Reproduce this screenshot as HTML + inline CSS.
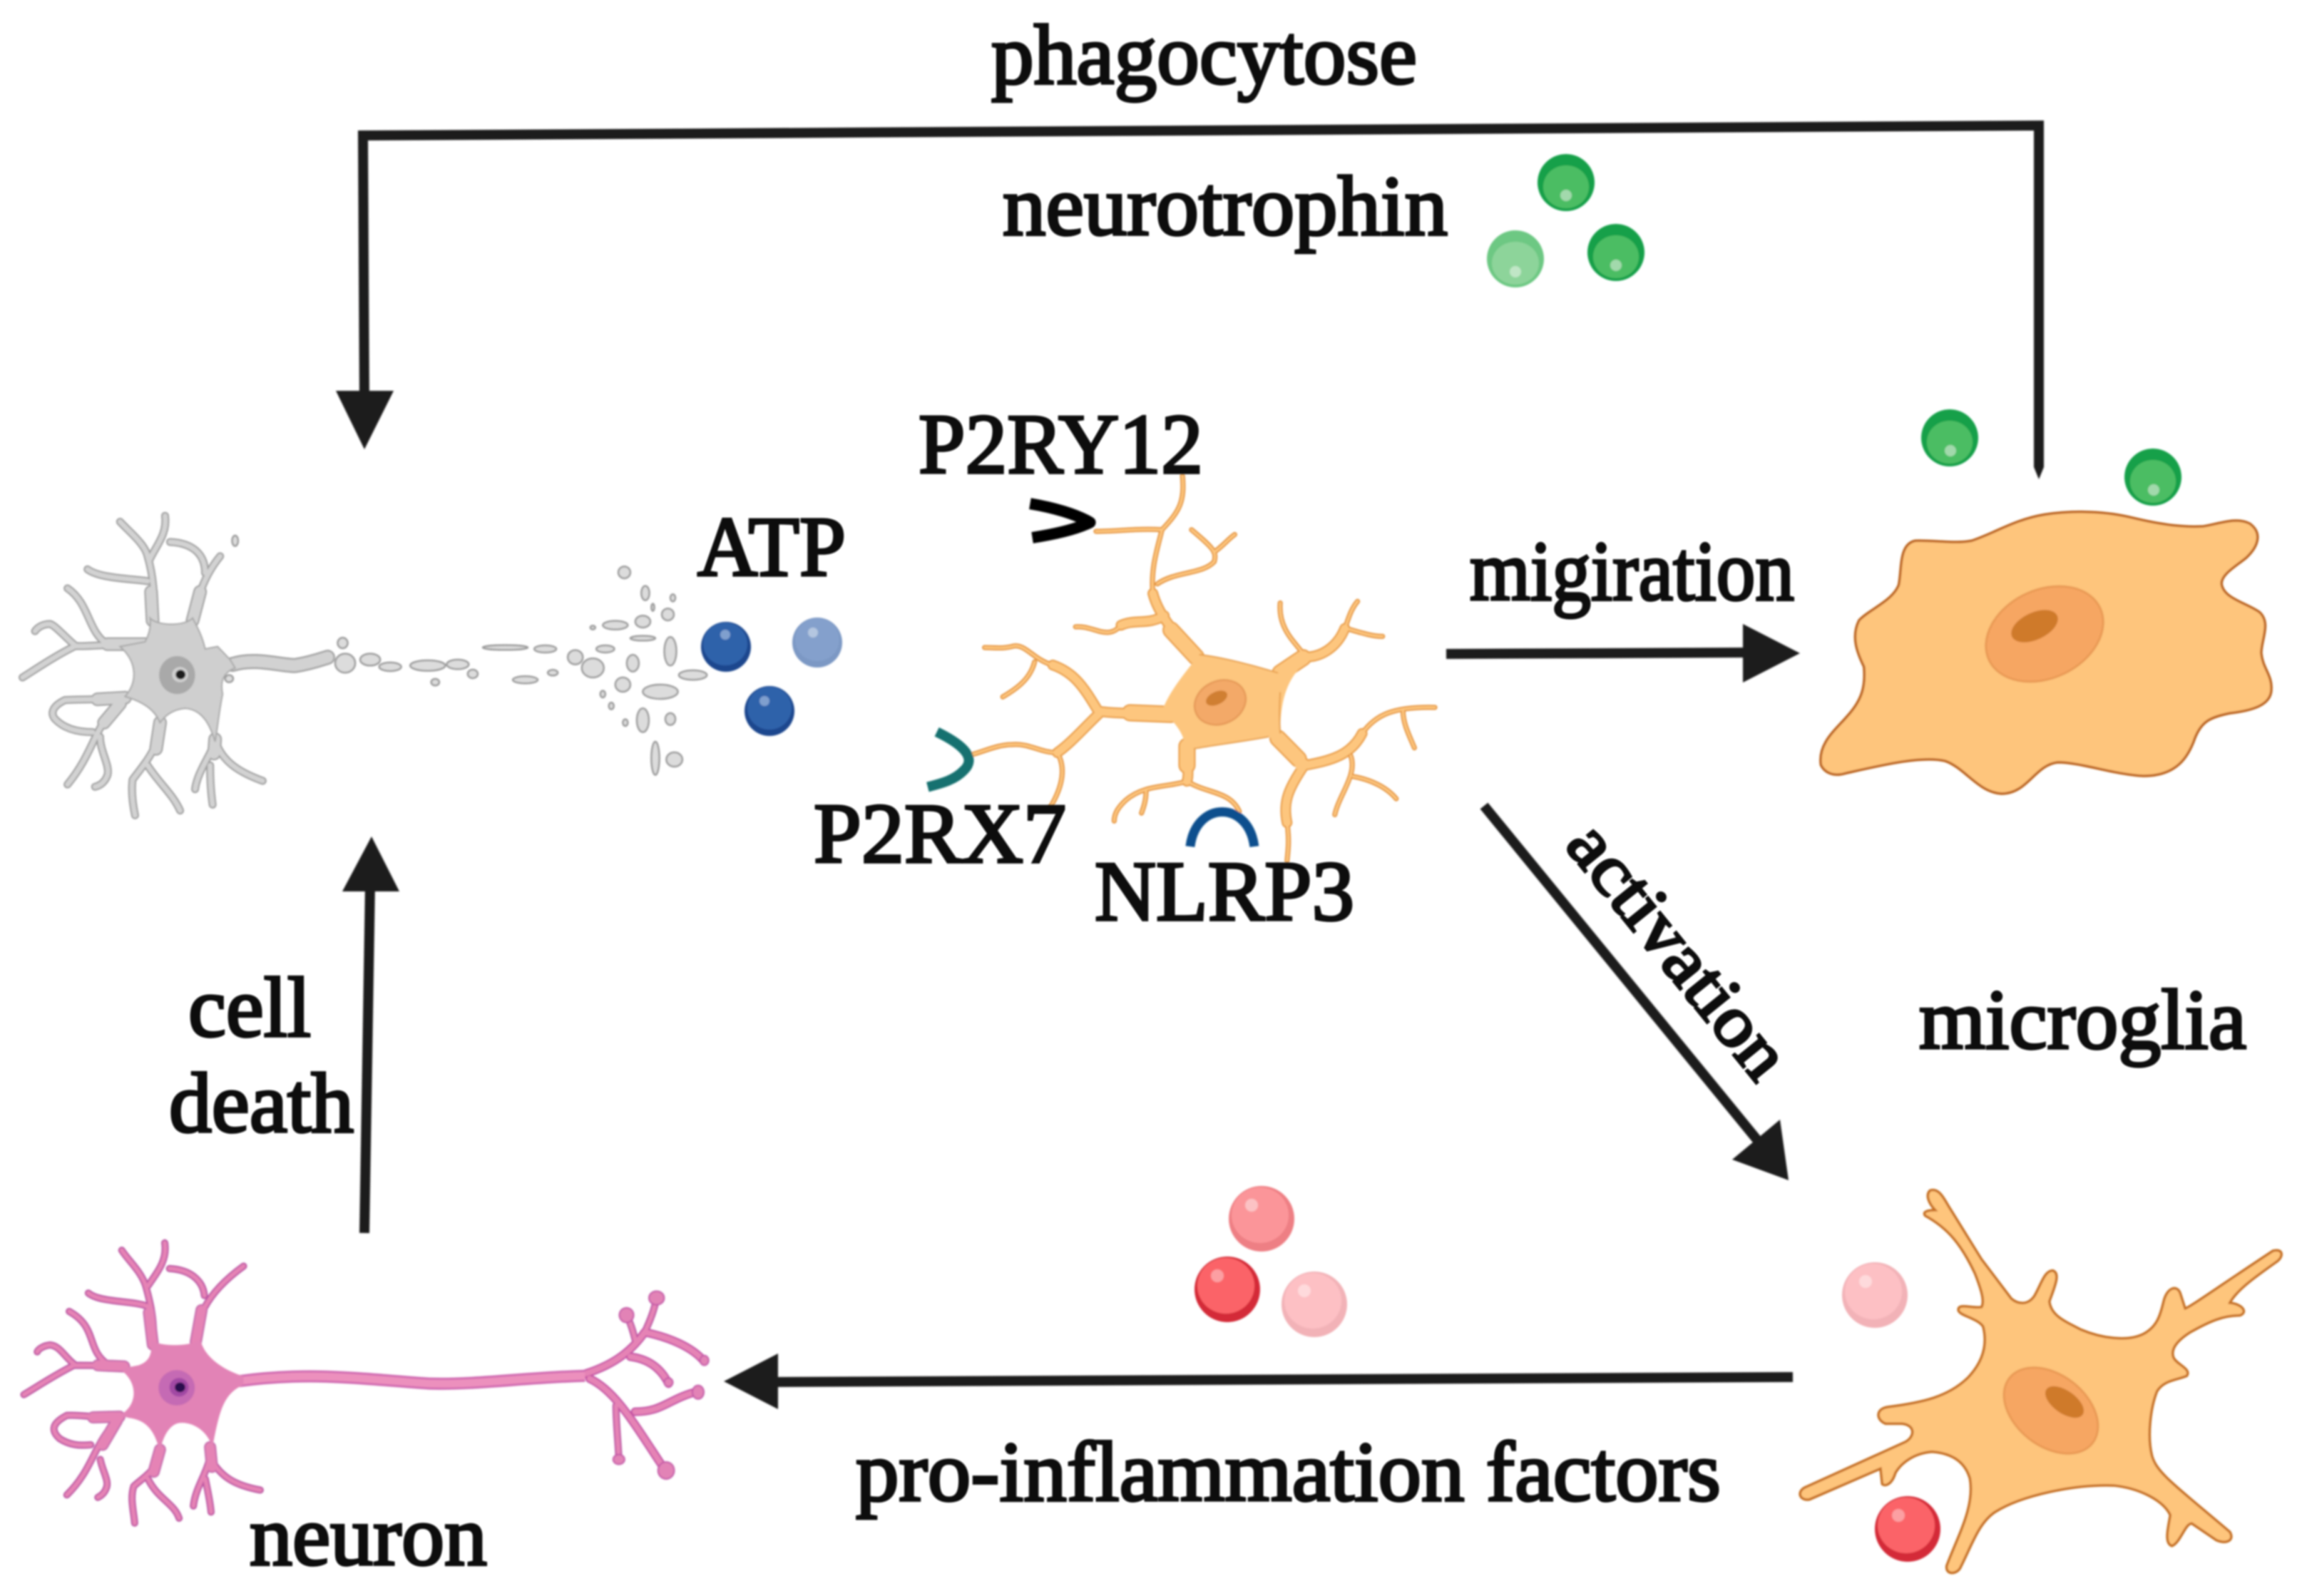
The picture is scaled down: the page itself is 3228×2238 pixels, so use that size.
<!DOCTYPE html>
<html><head><meta charset="utf-8"><style>
html,body{margin:0;padding:0;background:#fff;width:3228px;height:2238px;overflow:hidden}
svg{display:block}
text{font-family:"Liberation Serif",serif;fill:#0a0a0a;stroke:#0a0a0a;stroke-width:3.8px;font-size:120px}
path,ellipse{vector-effect:non-scaling-stroke}
</style></head><body>
<svg xmlns="http://www.w3.org/2000/svg" width="3228" height="2238" viewBox="0 0 3228 2238">
<defs>
<filter id="b" x="-5%" y="-5%" width="110%" height="110%"><feGaussianBlur stdDeviation="1.4"/></filter>
<filter id="t" x="-5%" y="-20%" width="110%" height="140%"><feGaussianBlur stdDeviation="1.1"/></filter>

<g id="gA" fill="none" stroke-linecap="round" stroke-linejoin="round">
<path d="M305,570C312,480 305,370 295,300C290,250 260,200 240,155"/>
<path d="M298,320C310,260 335,210 330,130"/>
<path d="M385,570C395,480 405,390 440,300"/>
<path d="M410,370C410,300 390,245 340,240"/>
<path d="M295,405C270,395 200,395 175,355"/>
<path d="M290,670C240,665 190,680 150,678C110,720 75,770 45,810"/>
<path d="M150,675C130,640 110,590 100,585C85,585 75,600 70,615"/>
<path d="M215,670C175,620 180,500 135,435"/>
<path d="M250,895C210,905 170,900 130,905C105,930 100,960 110,985C130,1030 160,1040 185,1040"/>
<path d="M240,920C190,1000 190,1120 135,1260"/>
<path d="M200,1060C200,1120 220,1180 215,1220C210,1250 200,1265 190,1270"/>
<path d="M320,1000C320,1100 290,1170 265,1240C262,1290 265,1340 270,1390"/>
<path d="M295,1180C320,1260 345,1300 360,1370"/>
<path d="M430,1070C425,1130 395,1200 390,1280"/>
<path d="M420,1180C420,1240 422,1300 425,1345"/>
<path d="M435,1100C450,1170 480,1210 525,1245"/>
</g>
<g id="gR" fill="none" stroke-linecap="round">
<path d="M305,570L302,450"/><path d="M385,570L400,450"/><path d="M290,670L215,670"/><path d="M250,895L195,902"/><path d="M240,920L208,1000"/><path d="M320,1000L312,1110"/><path d="M430,1070L428,1130"/>
</g>
<g id="gB" fill="none" stroke-linecap="round" stroke-linejoin="round">
<path d="M465,755C510,725 560,760 590,760C620,750 640,735 655,725"/>
</g>

<g id="pA" fill="none" stroke-linecap="round" stroke-linejoin="round">
<path d="M320,540C325,450 315,370 305,300C295,240 270,200 255,155"/>
<path d="M310,300C335,230 350,190 345,125"/>
<path d="M410,530C410,450 425,340 510,220"/>
<path d="M428,340C425,280 400,235 355,230"/>
<path d="M310,385C280,360 210,370 185,330"/>
<path d="M260,630C220,625 190,625 155,625C110,670 80,710 50,745"/>
<path d="M155,620C135,590 125,545 105,542C90,545 80,560 78,570"/>
<path d="M225,620C180,560 205,470 145,405"/>
<path d="M250,835C210,845 170,825 140,830C110,860 105,890 125,925C145,950 165,955 190,950"/>
<path d="M245,850C195,950 195,1050 140,1155"/>
<path d="M210,1010C215,1060 230,1100 222,1130C218,1150 210,1160 205,1165"/>
<path d="M335,970C335,1050 295,1090 280,1120C272,1170 280,1220 282,1270"/>
<path d="M310,1090C330,1170 365,1190 375,1250"/>
<path d="M440,960C445,1040 410,1110 405,1200"/>
<path d="M430,1090C435,1140 440,1180 442,1225"/>
<path d="M445,1020C465,1080 490,1115 545,1135"/>
<path d="M1330,520C1325,480 1320,450 1312,420"/>
<path d="M1350,490C1362,440 1370,400 1375,350"/>
<path d="M1290,790C1290,860 1295,950 1296,1010"/>
</g>
<g id="pR" fill="none" stroke-linecap="round">
<path d="M320,540L312,410"/><path d="M410,530L422,400"/><path d="M260,630L205,625"/><path d="M250,835L195,838"/><path d="M245,850L215,950"/><path d="M335,970L322,1060"/><path d="M440,960L444,1040"/>
</g>
<g id="pB" fill="none" stroke-linecap="round" stroke-linejoin="round">
<path d="M1225,660C1290,620 1325,560 1350,490C1400,510 1450,550 1475,610"/>
<path d="M1320,590C1360,600 1385,640 1400,700"/>
<path d="M1235,680C1290,730 1330,870 1395,1060"/>
<path d="M1330,815C1390,815 1400,760 1465,730"/>
</g>
<g id="oR" fill="none" stroke-linecap="round">
<path d="M905,720L850,635"/><path d="M850,900L760,895"/><path d="M885,1000L885,1060"/><path d="M1090,770L1140,722"/><path d="M1085,975L1130,1040"/>
</g>
<g id="oA" fill="none" stroke-linecap="round" stroke-linejoin="round">
<path d="M905,720C870,660 825,600 810,520"/>
<path d="M835,590C800,620 770,600 740,620"/>
<path d="M850,900C800,895 740,900 690,890C660,820 640,770 590,745"/>
<path d="M690,900C660,940 630,990 600,1020"/>
<path d="M885,1000C885,1050 890,1090 885,1110"/>
<path d="M1145,720C1180,720 1215,690 1232,630"/>
<path d="M1085,980C1110,1020 1125,1040 1145,1055"/>
<path d="M1145,1055C1110,1130 1095,1170 1105,1240"/>
<path d="M1145,1060C1200,1045 1245,1030 1270,960"/>
</g>
<g id="oB" fill="none" stroke-linecap="round" stroke-linejoin="round">
<path d="M810,520C805,440 820,380 830,320C870,260 880,230 875,150"/>
<path d="M830,320C780,315 730,325 685,325"/>
<path d="M820,490C860,450 920,460 945,420C950,390 945,380 895,320"/>
<path d="M945,390C965,370 975,350 990,335"/>
<path d="M1145,720C1130,680 1085,640 1090,550"/>
<path d="M1232,630C1240,600 1245,570 1260,545"/>
<path d="M1235,630C1260,640 1290,655 1315,655"/>
<path d="M740,620C710,670 680,620 640,625"/>
<path d="M590,745C550,730 530,680 505,685C480,695 460,690 440,690"/>
<path d="M550,735C540,790 510,820 480,845"/>
<path d="M600,1020C560,1020 540,990 500,995C470,995 440,1015 415,1025"/>
<path d="M600,1020C620,1070 610,1130 585,1190"/>
<path d="M885,1110C840,1130 790,1120 750,1170C735,1190 725,1210 725,1235"/>
<path d="M795,1140C795,1170 790,1190 785,1210"/>
<path d="M885,1110C930,1150 980,1140 1000,1205"/>
<path d="M1105,1240C1110,1290 1108,1320 1105,1360"/>
<path d="M1270,960C1300,900 1340,875 1430,878"/>
<path d="M1360,890C1360,930 1375,970 1385,1005"/>
<path d="M1245,1030C1260,1090 1220,1150 1210,1215"/>
<path d="M1250,1095C1290,1105 1325,1130 1345,1165"/>
</g>
</defs>

<g filter="url(#b)">
<!-- gray neuron -->
<g transform="translate(0,680) scale(.7015,.3333)">
<use href="#gA" stroke="#9c9c9c" stroke-width="11"/>
<use href="#gR" stroke="#9c9c9c" stroke-width="19"/>
<use href="#gB" stroke="#a2a2a2" stroke-width="21"/>
<use href="#gA" stroke="#d2d2d2" stroke-width="7"/>
<use href="#gR" stroke="#d2d2d2" stroke-width="15"/>
<use href="#gB" stroke="#d2d2d2" stroke-width="16"/>
<path d="M300,560C315,595 370,595 385,560C395,600 405,640 410,690L435,680L460,735L470,770C445,790 440,830 445,880C438,950 435,1020 430,1080C420,1010 405,945 370,940C345,945 330,970 320,1000C310,950 290,915 250,890C275,830 275,745 240,680L290,660C298,630 302,595 300,560Z" fill="#cfcfcf" stroke="#a8a8a8" stroke-width="2"/>
<g fill="#dcdcdc" stroke="#9a9a9a" stroke-width="2.5">
<ellipse cx="685" cy="665" rx="10" ry="22"/><ellipse cx="690" cy="750" rx="20" ry="40"/><ellipse cx="740" cy="735" rx="20" ry="25"/><ellipse cx="780" cy="765" rx="22" ry="18"/><ellipse cx="855" cy="760" rx="35" ry="22"/><ellipse cx="915" cy="755" rx="22" ry="20"/><ellipse cx="1010" cy="684" rx="45" ry="10"/><ellipse cx="1090" cy="690" rx="22" ry="15"/><ellipse cx="870" cy="830" rx="8" ry="14"/><ellipse cx="945" cy="795" rx="10" ry="18"/><ellipse cx="1050" cy="820" rx="25" ry="15"/><ellipse cx="1105" cy="790" rx="10" ry="12"/><ellipse cx="1150" cy="725" rx="15" ry="30"/><ellipse cx="1185" cy="770" rx="22" ry="40"/><ellipse cx="1210" cy="690" rx="18" ry="15"/><ellipse cx="1265" cy="750" rx="12" ry="35"/><ellipse cx="1245" cy="840" rx="15" ry="30"/><ellipse cx="1320" cy="870" rx="35" ry="30"/><ellipse cx="1385" cy="800" rx="28" ry="20"/><ellipse cx="1205" cy="880" rx="5" ry="14"/><ellipse cx="1222" cy="930" rx="5" ry="14"/><ellipse cx="1250" cy="1000" rx="5" ry="14"/><ellipse cx="1285" cy="990" rx="12" ry="50"/><ellipse cx="1310" cy="1150" rx="8" ry="70"/><ellipse cx="1348" cy="1155" rx="16" ry="30"/><ellipse cx="1340" cy="985" rx="10" ry="25"/><ellipse cx="1340" cy="700" rx="12" ry="60"/><ellipse cx="1285" cy="645" rx="25" ry="10"/><ellipse cx="1230" cy="590" rx="25" ry="18"/><ellipse cx="1285" cy="575" rx="15" ry="25"/><ellipse cx="1335" cy="545" rx="12" ry="25"/><ellipse cx="1248" cy="368" rx="12" ry="25"/><ellipse cx="1290" cy="455" rx="8" ry="30"/><ellipse cx="1305" cy="515" rx="3" ry="15"/><ellipse cx="1345" cy="475" rx="5" ry="15"/><ellipse cx="1185" cy="600" rx="5" ry="8"/><ellipse cx="470" cy="235" rx="6" ry="22"/><ellipse cx="458" cy="815" rx="8" ry="15"/>
</g>
<ellipse cx="354" cy="800" rx="36" ry="80" fill="#a9a9a9"/>
<ellipse cx="360" cy="798" rx="16" ry="32" fill="#d0d0d0"/>
<ellipse cx="361" cy="798" rx="10" ry="20" fill="#1e1e1e"/>
</g>

<!-- pink neuron -->
<g transform="translate(0,1700) scale(.6696,.3431)">
<use href="#pA" stroke="#bb54a2" stroke-width="10"/>
<use href="#pR" stroke="#c46aac" stroke-width="17"/>
<use href="#pB" stroke="#c24fa3" stroke-width="12"/>
<use href="#pA" stroke="#e583b5" stroke-width="6"/>
<use href="#pR" stroke="#e583b5" stroke-width="13"/>
<use href="#pB" stroke="#e583b5" stroke-width="8"/>
<path d="M500,690C650,650 750,680 900,700C1000,705 1100,675 1225,668" fill="none" stroke="#cf68b0" stroke-width="17"/>
<path d="M500,690C650,650 750,680 900,700C1000,705 1100,675 1225,668" fill="none" stroke="#ec90bd" stroke-width="11"/>
<path d="M315,520C330,550 400,550 420,520C425,580 460,640 510,670L510,705C470,740 460,800 445,960C435,900 410,860 380,860C355,860 340,920 335,980C325,900 310,850 270,840L250,830C290,790 290,690 250,640L290,625C315,610 320,570 315,520Z" fill="#e283b6"/>
<g fill="#e283b6" stroke="#c45aa8" stroke-width="2">
<ellipse cx="1375" cy="350" rx="16" ry="28"/><ellipse cx="1312" cy="420" rx="15" ry="30"/><ellipse cx="1395" cy="1055" rx="17" ry="35"/><ellipse cx="1296" cy="1010" rx="12" ry="20"/><ellipse cx="1462" cy="735" rx="12" ry="28"/><ellipse cx="1475" cy="605" rx="9" ry="20"/><ellipse cx="1400" cy="695" rx="9" ry="18"/>
</g>
<ellipse cx="370" cy="717" rx="38" ry="72" fill="#c56ab4"/>
<ellipse cx="375" cy="715" rx="20" ry="38" fill="#a248a4"/>
<ellipse cx="377" cy="715" rx="11" ry="20" fill="#2c0f4e"/>
</g>

<!-- center orange glia -->
<g transform="translate(1100,600) scale(.6378,.4464)">
<use href="#oR" stroke="#e8983c" stroke-width="24"/>
<use href="#oA" stroke="#e8983c" stroke-width="15"/>
<use href="#oB" stroke="#e38d2f" stroke-width="7"/>
<use href="#oR" stroke="#fdc67e" stroke-width="20"/>
<use href="#oA" stroke="#fdc67e" stroke-width="11"/>
<use href="#oB" stroke="#fdc67e" stroke-width="3.5"/>
<path d="M912,712C960,720 1030,745 1085,770L1135,725L1150,730C1110,780 1090,840 1090,960C1100,1000 1130,1030 1150,1045L1130,1080C1110,1030 1090,995 1065,970C1010,985 950,995 900,1008L880,1000C880,965 860,925 830,890C845,830 880,770 912,712Z" fill="#fdc67e"/>
<path d="M912,712C960,720 1030,745 1085,770" fill="none" stroke="#e8a050" stroke-width="2"/>
<path d="M1065,970C1010,985 950,995 900,1008" fill="none" stroke="#e8a050" stroke-width="2"/>
<path d="M1090,830C1088,870 1088,920 1090,960" fill="none" stroke="#e8a050" stroke-width="2"/>
</g>
<ellipse cx="1711" cy="985" rx="37" ry="30" transform="rotate(-25 1711 985)" fill="#f3a968" stroke="#e69a58" stroke-width="2.5"/>
<ellipse cx="1706" cy="979" rx="16" ry="9" transform="rotate(-25 1706 979)" fill="#d07f33"/>

<!-- receptors -->
<g transform="translate(1100,600) scale(.6378,.4464)" fill="none">
<path d="M540,238C590,250 640,270 672,297C640,320 590,335 545,345" stroke="#000" stroke-width="16" stroke-linejoin="round"/>
<path d="M335,955C400,1000 420,1040 395,1075C375,1105 350,1115 315,1128" stroke="#13716f" stroke-width="14"/>
<path d="M892,1315C905,1170 1020,1170 1033,1315" stroke="#0c4f8e" stroke-width="13"/>
</g>

<!-- large microglia -->
<g transform="translate(2500,560) scale(.4643,.3827)">
<path d="M115,1340C105,1260 160,1210 195,1160C240,1100 250,1050 245,980C225,930 205,870 230,810C260,770 330,740 350,680C360,620 350,530 400,518C450,515 520,530 570,518C640,490 700,440 790,422C880,405 980,410 1060,435C1130,455 1200,470 1270,465C1320,455 1370,430 1410,455C1450,490 1435,540 1400,580C1370,610 1325,640 1325,675C1330,730 1400,745 1440,780C1475,820 1445,880 1445,930C1450,990 1480,1010 1475,1070C1470,1120 1420,1140 1350,1150C1290,1165 1265,1180 1245,1240C1225,1310 1190,1380 1090,1380C1000,1375 900,1330 830,1330C760,1340 740,1445 660,1445C590,1440 550,1350 490,1325C420,1305 300,1340 190,1370C150,1385 125,1365 115,1340Z" fill="#fec57c" stroke="#bc641c" stroke-width="3.5"/>
</g>
<ellipse cx="2867" cy="889" rx="86" ry="62" transform="rotate(-25 2867 889)" fill="#f6a662" stroke="#e99a55" stroke-width="3"/>
<ellipse cx="2853" cy="878" rx="35" ry="19" transform="rotate(-25 2853 878)" fill="#cf7a2b"/>

<!-- small microglia -->
<g transform="translate(2500,1620) scale(.4643,.3941)">
<path d="M445,125C470,115 485,150 500,180L600,370L690,510C710,530 740,535 760,500C780,460 790,410 815,410C840,420 820,470 805,520C810,570 850,590 900,620C960,650 1040,665 1090,635C1130,610 1140,570 1150,520C1160,470 1190,460 1200,490L1215,545C1230,540 1300,480 1480,340C1510,330 1515,360 1490,380C1430,430 1370,480 1350,525C1390,530 1405,560 1380,570C1330,570 1290,590 1230,630C1190,660 1170,690 1180,720C1190,745 1235,760 1220,785C1190,800 1150,800 1130,840C1110,900 1100,1000 1115,1070C1130,1130 1180,1170 1350,1340C1365,1370 1340,1385 1310,1370L1235,1310C1215,1310 1200,1380 1175,1390C1150,1380 1165,1320 1170,1280C1150,1230 1080,1185 1000,1175C880,1170 720,1210 640,1270C590,1310 570,1390 535,1470C520,1495 490,1490 495,1460C530,1350 580,1250 565,1150C550,1090 510,1060 450,1055C400,1060 360,1090 340,1130C330,1170 310,1180 300,1170L295,1115L80,1225C50,1230 40,1195 70,1180L370,1020C400,1000 400,960 360,955L310,955C280,940 280,900 320,895C420,880 500,860 560,790C600,740 620,680 605,610C590,580 530,570 530,550C530,525 570,545 600,540C610,520 600,480 580,420C540,320 500,260 430,215C420,200 440,195 460,195C440,170 430,140 445,125Z" fill="#fec57c" stroke="#c66f20" stroke-width="3.5"/>
</g>
<ellipse cx="2876" cy="1978" rx="74" ry="50" transform="rotate(38 2876 1978)" fill="#f6a662" stroke="#e99a55" stroke-width="3"/>
<ellipse cx="2895" cy="1966" rx="31" ry="16" transform="rotate(35 2895 1966)" fill="#cf7a2b"/>

<!-- blue balls -->
<g>
<ellipse cx="1018" cy="907" rx="35" ry="35" fill="#1c478e"/><ellipse cx="1017" cy="903" rx="31" ry="30" fill="#2f62aa"/><circle cx="1017" cy="890" r="7" fill="#7f9fce"/>
<ellipse cx="1146" cy="901" rx="35" ry="35" fill="#7c98c4"/><ellipse cx="1146" cy="897" rx="31" ry="30" fill="#84a0cc"/><circle cx="1140" cy="887" r="7" fill="#b4c6e0"/>
<ellipse cx="1079" cy="997" rx="35" ry="35" fill="#1c478e"/><ellipse cx="1079" cy="993" rx="31" ry="30" fill="#2f62aa"/><circle cx="1072" cy="983" r="7" fill="#7f9fce"/>
</g>
<!-- green balls -->
<g>
<circle cx="2196" cy="256" r="40" fill="#12a04a"/><ellipse cx="2196" cy="262" rx="32" ry="30" fill="#4cbd63"/><circle cx="2196" cy="274" r="8" fill="#a2d9ac"/>
<circle cx="2125" cy="363" r="40" fill="#6dc883"/><ellipse cx="2125" cy="369" rx="33" ry="30" fill="#8dd49a"/><circle cx="2125" cy="381" r="8" fill="#c0e6c6"/>
<circle cx="2266" cy="354" r="40" fill="#12a04a"/><ellipse cx="2266" cy="360" rx="32" ry="30" fill="#4cbd63"/><circle cx="2266" cy="372" r="8" fill="#a2d9ac"/>
<circle cx="2734" cy="614" r="40" fill="#12a04a"/><ellipse cx="2734" cy="620" rx="32" ry="30" fill="#4cbd63"/><circle cx="2735" cy="632" r="8" fill="#a2d9ac"/>
<circle cx="3019" cy="669" r="40" fill="#12a04a"/><ellipse cx="3019" cy="675" rx="32" ry="30" fill="#4cbd63"/><circle cx="3020" cy="687" r="8" fill="#a2d9ac"/>
</g>
<!-- red balls -->
<g>
<circle cx="1769" cy="1709" r="46" fill="#ee7f84"/><ellipse cx="1767" cy="1704" rx="40" ry="39" fill="#fb9599"/><circle cx="1755" cy="1690" r="9" fill="#fcc2c4"/>
<circle cx="1721" cy="1808" r="46" fill="#d42b38"/><ellipse cx="1719" cy="1803" rx="40" ry="39" fill="#fb6468"/><circle cx="1707" cy="1789" r="9" fill="#fc9fa2"/>
<circle cx="1843" cy="1829" r="46" fill="#f2b2b7"/><ellipse cx="1841" cy="1824" rx="40" ry="39" fill="#fdc0c4"/><circle cx="1829" cy="1810" r="9" fill="#fedadc"/>
<circle cx="2629" cy="1816" r="46" fill="#f2b2b7"/><ellipse cx="2627" cy="1811" rx="40" ry="39" fill="#fdc0c4"/><circle cx="2616" cy="1797" r="9" fill="#fedadc"/>
<circle cx="2675" cy="2144" r="46" fill="#d42b38"/><ellipse cx="2673" cy="2139" rx="40" ry="39" fill="#fb6468"/><circle cx="2662" cy="2125" r="9" fill="#fc9fa2"/>
</g>

<!-- arrows -->
<g fill="none" stroke="#1f1d1d" stroke-width="14" stroke-linejoin="miter">
<path d="M2859,655L2859,176L509,190L511,560"/>
<path d="M2028,917L2450,915"/>
<path d="M2081,1130L2480,1618"/>
<path d="M2514,1931L1085,1938"/>
<path d="M511,1729L519,1240"/>
</g>
<g fill="#1f1d1d">
<polygon points="2852,655 2866,655 2859,672"/>
<polygon points="471,548 552,548 511,630"/>
<polygon points="2444,875 2524,916 2444,957"/>
<polygon points="2429,1626 2496,1570 2508,1655"/>
<polygon points="1015,1937 1091,1898 1091,1976"/>
<polygon points="521,1173 480,1250 560,1250"/>
</g>
</g>

<!-- labels -->
<g filter="url(#t)">
<text x="1390" y="117" textLength="597" lengthAdjust="spacingAndGlyphs">phagocytose</text>
<text x="1406" y="329" textLength="624" lengthAdjust="spacingAndGlyphs">neurotrophin</text>
<text x="1288" y="663" textLength="399" lengthAdjust="spacingAndGlyphs">P2RY12</text>
<text x="978" y="807" textLength="208" lengthAdjust="spacingAndGlyphs">ATP</text>
<text x="2061" y="841" textLength="455" lengthAdjust="spacingAndGlyphs">migiration</text>
<text x="1141" y="1209" textLength="354" lengthAdjust="spacingAndGlyphs">P2RX7</text>
<text x="1535" y="1290" textLength="364" lengthAdjust="spacingAndGlyphs">NLRP3</text>
<text x="2691" y="1470" textLength="459" lengthAdjust="spacingAndGlyphs">microglia</text>
<text x="264" y="1453" textLength="172" lengthAdjust="spacingAndGlyphs">cell</text>
<text x="237" y="1587" textLength="259" lengthAdjust="spacingAndGlyphs">death</text>
<text x="350" y="2194" textLength="333" lengthAdjust="spacingAndGlyphs">neuron</text>
<text x="1200" y="2104" textLength="1213" lengthAdjust="spacingAndGlyphs">pro-inflammation factors</text>
<text transform="translate(2347,1338) rotate(51)" x="-215" y="24" textLength="430" lengthAdjust="spacingAndGlyphs" style="font-size:100px">activation</text>
</g>
</svg>
</body></html>
